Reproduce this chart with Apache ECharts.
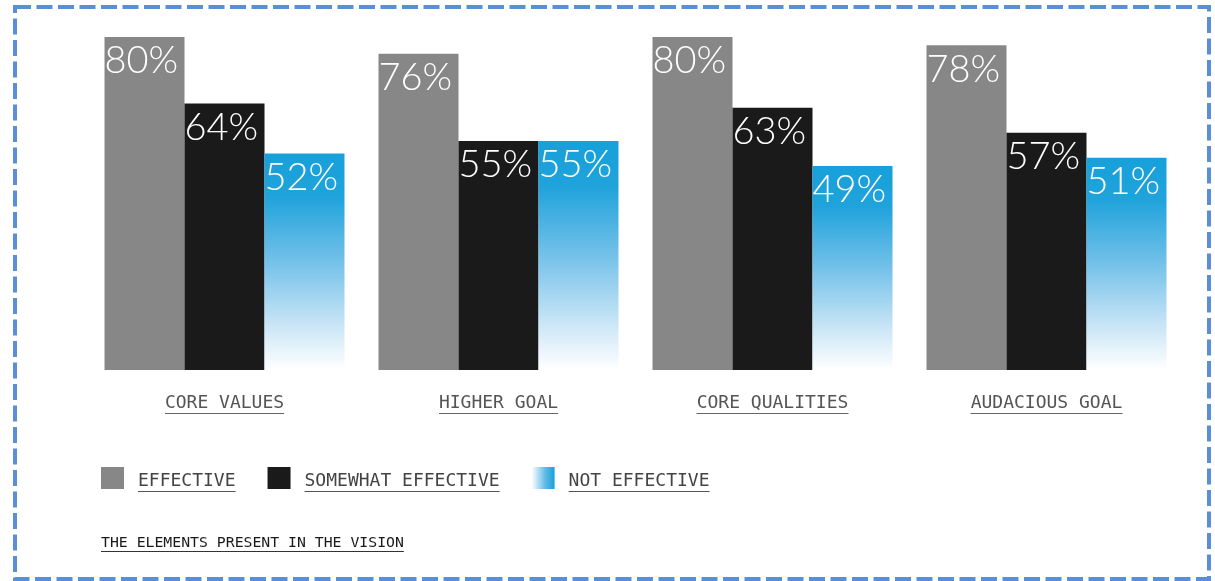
<!DOCTYPE html>
<html>
<head>
<meta charset="utf-8">
<script src="https://cdn.jsdelivr.net/npm/echarts@6/dist/echarts.min.js"></script>
<style>
  html, body { margin: 0; padding: 0; background: #fff; }
  #chart { width: 1215px; height: 581px; }
</style>
</head>
<body>
<div id="chart"></div>
<script>
// Vision elements and how effective each rated
const categories = ['CORE VALUES', 'HIGHER GOAL', 'CORE QUALITIES', 'AUDACIOUS GOAL'];
const effective = [80, 76, 80, 78];
const somewhatEffective = [64, 55, 63, 57];
const notEffective = [52, 55, 49, 51];
const seriesNames = ['EFFECTIVE', 'SOMEWHAT EFFECTIVE', 'NOT EFFECTIVE'];
const footnote = 'THE ELEMENTS PRESENT IN THE VISION';

const MONO = '"DejaVu Sans Mono", "Liberation Mono", monospace';
const MONO_ADVANCE = 0.602; // glyph advance of the monospace face, in em
const GRAY = '#878787';
const BLACK = '#1a1a1a';
const BLUE = '#17a0da';

// rich-text styles: a text line followed by a thin rule as underline
function textStyle(fontSize, color, weight) {
  return { fontFamily: MONO, fontSize: fontSize, color: color, fontWeight: weight || 'normal',
           lineHeight: Math.round(fontSize * 1.05) };
}
function ruleStyle(width, lineColor) {
  return { width: width, height: 1, lineHeight: 1, backgroundColor: lineColor, fontSize: 1 };
}
function underlined(fontSize, color, lineColor, weight) {
  return { t: textStyle(fontSize, color, weight), u: ruleStyle('100%', lineColor) };
}
function ul(s, key) { return '{t|' + s + '}\n{' + (key || 'u') + '| }'; }

// axis labels are centred, so each rule gets the exact width of its label
const AXIS_FONT = 18;
const axisRich = { t: textStyle(AXIS_FONT, '#555') };
categories.forEach(function (c, i) {
  axisRich['u' + i] = ruleStyle(Math.round(c.length * MONO_ADVANCE * AXIS_FONT), '#666');
});

const blueFade = new echarts.graphic.LinearGradient(0, 0, 0, 1, [
  { offset: 0, color: BLUE },
  { offset: 0.2, color: '#20a3db' },
  { offset: 0.5, color: '#74c1e9' },
  { offset: 0.8, color: '#cbe6f6' },
  { offset: 1, color: '#ffffff' }
]);
const blueSwatch = new echarts.graphic.LinearGradient(0, 0, 1, 0, [
  { offset: 0, color: '#ffffff' },
  { offset: 0.6, color: '#5fb9e6' },
  { offset: 1, color: BLUE }
]);

const valueLabel = {
  show: true,
  position: [0, 5],
  formatter: '{c}%',
  color: '#ffffff',
  fontFamily: 'Lato, "Open Sans", sans-serif',
  fontWeight: 300,
  fontSize: 38
};

function barSeries(name, data, color) {
  return {
    name: name,
    type: 'bar',
    data: data,
    barWidth: 80,
    barGap: '0%',
    itemStyle: { color: color },
    label: valueLabel,
    emphasis: { disabled: true }
  };
}

const chart = echarts.init(document.getElementById('chart'), null, { renderer: 'canvas' });
chart.setOption({
  backgroundColor: '#ffffff',
  animation: false,
  title: {
    text: ul(footnote),
    left: 101,
    top: 535,
    padding: 0,
    textStyle: { fontWeight: 'normal', rich: underlined(14.8, '#1a1a1a', '#333') }
  },
  legend: {
    left: 101,
    top: 467,
    padding: 0,
    itemWidth: 23,
    itemHeight: 22,
    itemGap: 32,
    icon: 'rect',
    selectedMode: false,
    formatter: function (name) { return ul(name); },
    textStyle: { padding: [8, 0, 0, 9], rich: underlined(18, '#444', '#555') },
    data: [
      { name: seriesNames[0] },
      { name: seriesNames[1] },
      { name: seriesNames[2], itemStyle: { color: blueSwatch } }
    ]
  },
  grid: { left: 87.5, right: 31.5, top: 37, bottom: 211 },
  xAxis: {
    type: 'category',
    data: categories,
    axisLine: { show: false },
    axisTick: { show: false },
    axisLabel: {
      interval: 0,
      margin: 24,
      formatter: function (v, i) { return ul(v, 'u' + i); },
      rich: axisRich
    }
  },
  yAxis: {
    type: 'value',
    min: 0,
    max: 80,
    show: false,
    splitLine: { show: false }
  },
  series: [
    barSeries(seriesNames[0], effective, GRAY),
    barSeries(seriesNames[1], somewhatEffective, BLACK),
    barSeries(seriesNames[2], notEffective, blueFade)
  ],
  graphic: [{
    type: 'rect',
    silent: true,
    shape: { x: 15, y: 7, width: 1194, height: 572 },
    style: { fill: 'none', stroke: '#5a8fd8', lineWidth: 4, lineDash: [16, 5.5] }
  }]
});
</script>
</body>
</html>
